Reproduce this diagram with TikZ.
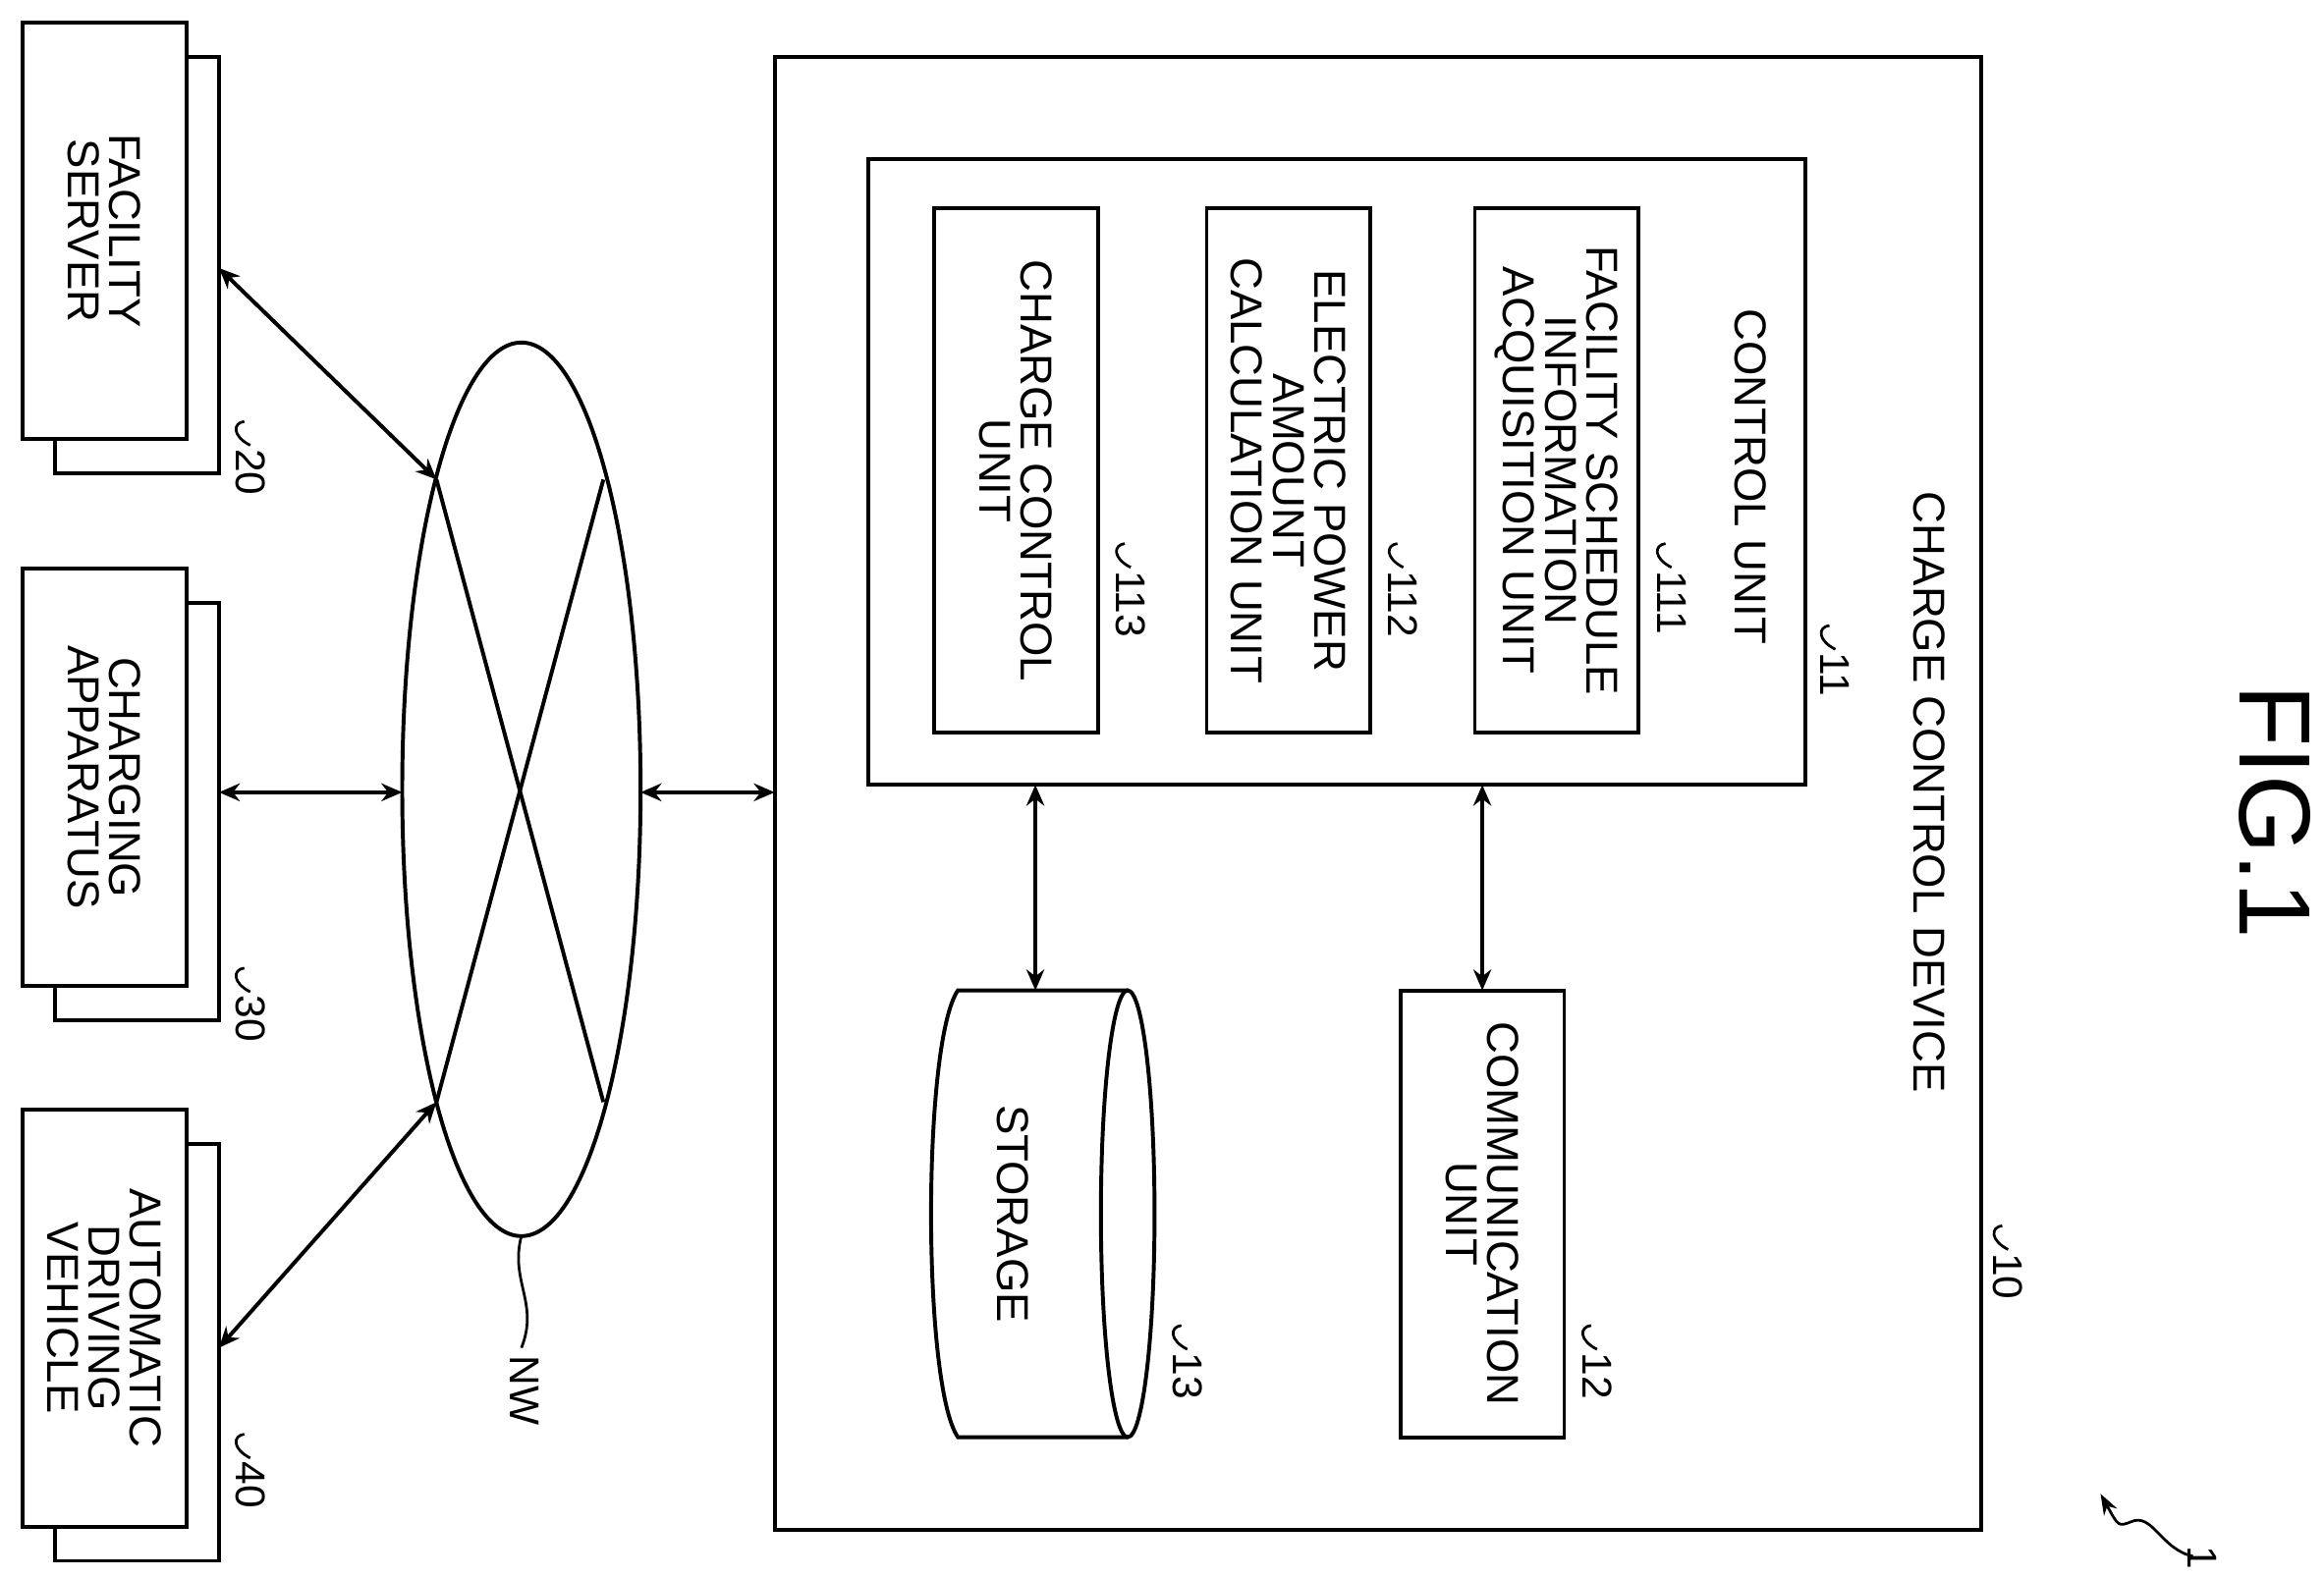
\documentclass[tikz,border=0pt]{standalone}
\usepackage{fontspec}
\setmainfont{Liberation Sans}
\usetikzlibrary{arrows.meta}
\begin{document}
\begin{tikzpicture}[x=0.5pt,y=-0.5pt,
  box/.style={draw,line width=1.3pt,fill=white},
  txt/.style={rotate=-90,align=center,font=\fontsize{15}{14}\selectfont,inner sep=0pt},
  lbl/.style={rotate=-90,anchor=west,font=\fontsize{14}{14}\selectfont,inner sep=0pt},
  arr/.style={line width=1.3pt,{Stealth[length=7pt,width=6pt]}-{Stealth[length=7pt,width=6pt]}},
  sq/.style={line width=0.9pt}]
\useasboundingbox (0,0) rectangle (1560,1059);
\newcommand{\reflbl}[4]{% x,y,text,name
  \draw[sq] (#1-4,#2) .. controls (#1-12,#2+1) and (#1-12,#2+10) .. (#1,#2+16);
  \node[lbl] (#4) at (#1,#2+18) {#3};}
% left boxes
\foreach \n/\y/\t in {fs/15/{FACILITY\\SERVER},ca/382/{CHARGING\\APPARATUS},av/745/{AUTOMATIC\\DRIVING\\VEHICLE}}{
  \draw[box] (37,\y+23) rectangle (147,\y+303);
  \draw[box] (15,\y) rectangle (125,\y+280);
  \node[txt] (\n) at (70,\y+140) {\t};
}
\reflbl{168}{283}{20}{l20}
\reflbl{168}{650}{30}{l30}
\reflbl{168}{963}{40}{l40}
% network
\draw[line width=1.3pt] (350,530) ellipse (80 and 300);
\coordinate (c1) at (293,322); \coordinate (c2) at (405,740);
\coordinate (c3) at (405,322); \coordinate (c4) at (293,740);
\draw[line width=1.3pt] (c1)--(c2); \draw[line width=1.3pt] (c3)--(c4);
\coordinate (fsr) at (147,180); \coordinate (car) at (147,532); \coordinate (avr) at (147,905);
\coordinate (nwl) at (270,532); \coordinate (nwr) at (430,532); \coordinate (cdl) at (520,532);
\draw[arr] (fsr)--(c1); \draw[arr] (car)--(nwl); \draw[arr] (avr)--(c4); \draw[arr] (nwr)--(cdl);
\draw[sq] (350,830) .. controls (342,860) and (362,875) .. (350,905);
\node[lbl] (nw) at (352,910) {NW};
% charge control device
\draw[box] (520,38) rectangle (1330,1027);
\node[txt] (ccd) at (1295,532) {CHARGE CONTROL DEVICE};
\reflbl{1348}{823}{10}{l10}
\draw[box] (583,107) rectangle (1212,527);
\node[txt] (cu) at (1175,320) {CONTROL UNIT};
\reflbl{1232}{420}{11}{l11}
\draw[box] (990,140) rectangle (1100,492);
\node[txt] (u111) at (1045,316) {FACILITY SCHEDULE\\INFORMATION\\ACQUISITION UNIT};
\reflbl{1122}{365}{111}{l111}
\draw[box] (810,140) rectangle (920,492);
\node[txt] (u112) at (865,316) {ELECTRIC POWER\\AMOUNT\\CALCULATION UNIT};
\reflbl{942}{365}{112}{l112}
\draw[box] (627,140) rectangle (737,492);
\node[txt] (u113) at (682,316) {CHARGE CONTROL\\UNIT};
\reflbl{759}{365}{113}{l113}
% storage
\draw[line width=1.3pt,fill=white] (757,665) -- (643,665) .. controls (619,700) and (619,930) .. (643,965) -- (757,965);
\draw[line width=1.3pt] (757,815) ellipse (18 and 150);
\node[txt] (st) at (680,815) {STORAGE};
\reflbl{797}{890}{13}{l13}
\draw[box] (940,665) rectangle (1050,965);
\node[txt] (cm) at (995,815) {COMMUNICATION\\UNIT};
\reflbl{1072}{890}{12}{l12}
\coordinate (a1) at (695,527); \coordinate (a2) at (695,665);
\coordinate (b1) at (995,527); \coordinate (b2) at (995,665);
\draw[arr] (a1)--(a2); \draw[arr] (b1)--(b2);
% FIG
\node[rotate=-90,font=\fontsize{34}{34}\selectfont] (fig) at (1527,545) {FIG.1};
\coordinate (s1) at (1472,1045); \coordinate (s2) at (1410,1003);
\draw[line width=0.9pt,-{Stealth[length=7pt,width=5pt]}] (s1) .. controls (1450,1040) and (1445,1015) .. (1430,1022) .. controls (1422,1025) .. (s2);
\node[lbl] (one) at (1478,1038) {1};
\end{tikzpicture}
\end{document}
